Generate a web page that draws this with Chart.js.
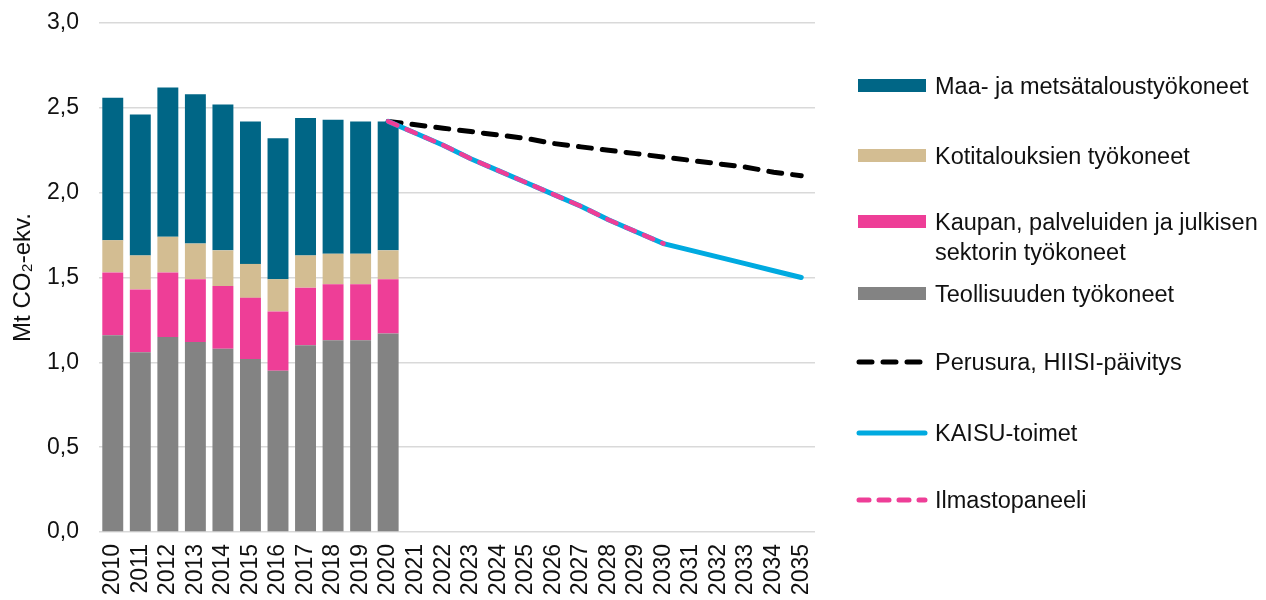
<!DOCTYPE html>
<html>
<head>
<meta charset="utf-8">
<script src="https://cdn.jsdelivr.net/npm/chart.js@4/dist/chart.umd.min.js"></script>
<style>
  html, body { margin: 0; padding: 0; background: #fff; }
  #wrap { position: relative; width: 1266px; height: 600px; }
  #legend { position: absolute; left: 0; top: 0; font-family: "Liberation Sans", Arial, sans-serif; font-size: 23.5px; color: #111; }
  .item { position: absolute; left: 856px; }
  .item svg { display: block; }
  .item span { position: absolute; left: 79px; white-space: nowrap; line-height: 30px; }
</style>
</head>
<body>
<div id="wrap">
  <canvas id="chart" width="1266" height="600"></canvas>
  <div id="legend"></div>
</div>
<script>
// Non-road machinery emissions, Mt CO2-ekv.

const years = ['2010','2011','2012','2013','2014','2015','2016','2017','2018','2019','2020',
  '2021','2022','2023','2024','2025','2026','2027','2028','2029','2030',
  '2031','2032','2033','2034','2035'];

// stacked bars, 2010-2020
const teollisuus = [1.16, 1.06, 1.15, 1.12, 1.08, 1.02, 0.95, 1.10, 1.13, 1.13, 1.17];
const kauppa     = [0.37, 0.37, 0.38, 0.37, 0.37, 0.36, 0.35, 0.34, 0.33, 0.33, 0.32];
const kotitalous = [0.19, 0.20, 0.21, 0.21, 0.21, 0.20, 0.19, 0.19, 0.18, 0.18, 0.17];
const maaMetsa   = [0.84, 0.83, 0.88, 0.88, 0.86, 0.84, 0.83, 0.81, 0.79, 0.78, 0.76];

// scenario lines, 2020-2035
const perusura = [2.42, 2.40, 2.38, 2.36, 2.34, 2.32, 2.29, 2.27, 2.25, 2.23, 2.21, 2.19, 2.17, 2.15, 2.12, 2.10];
const kaisu    = [2.42, 2.35, 2.28, 2.20, 2.13, 2.06, 1.99, 1.92, 1.84, 1.77, 1.70, 1.66, 1.62, 1.58, 1.54, 1.50];
const ilmasto  = [2.42, 2.35, 2.28, 2.20, 2.13, 2.06, 1.99, 1.92, 1.84, 1.77, 1.70];

const yTicks = [0, 0.5, 1.0, 1.5, 2.0, 2.5, 3.0];

const teal = '#006686';
const tan = '#D3BD92';
const pink = '#EE3E97';
const gray = '#838383';
const blue = '#00AAE0';

const FONT = '"Liberation Sans", Arial, sans-serif';
const lineStart = years.indexOf('2020');

function fromYear(vals) {
  return years.map((y, i) => (i >= lineStart && i - lineStart < vals.length) ? vals[i - lineStart] : null);
}

const datasets = [
  { type: 'line', label: 'Ilmastopaneeli', data: fromYear(ilmasto), borderColor: pink, borderWidth: 4.5,
    borderDash: [10, 10], stack: 'l1', order: 1, legendY: 500, dash: '10 10' },
  { type: 'line', label: 'KAISU-toimet', data: fromYear(kaisu), borderColor: blue, borderWidth: 5,
    stack: 'l2', order: 2, legendY: 433 },
  { type: 'line', label: 'Perusura, HIISI-päivitys', data: fromYear(perusura), borderColor: '#000', borderWidth: 5,
    borderDash: [13, 11], stack: 'l3', order: 3, legendY: 362, dash: '13 11' },
  { label: 'Teollisuuden työkoneet', data: teollisuus, backgroundColor: gray, legendY: 294 },
  { label: 'Kaupan, palveluiden ja julkisen\nsektorin työkoneet', data: kauppa, backgroundColor: pink, legendY: 222 },
  { label: 'Kotitalouksien työkoneet', data: kotitalous, backgroundColor: tan, legendY: 156 },
  { label: 'Maa- ja metsätaloustyökoneet', data: maaMetsa, backgroundColor: teal, legendY: 86 }
];

datasets.forEach(ds => {
  if (!ds.type) {
    ds.type = 'bar';
    ds.stack = 'bars';
    ds.order = 10;
    ds.barPercentage = 0.76;
    ds.categoryPercentage = 1;
    ds.borderWidth = 0;
  } else {
    ds.pointRadius = 0;
    ds.borderCapStyle = 'round';
    ds.tension = 0;
  }
});

new Chart(document.getElementById('chart'), {
  data: { labels: years, datasets: datasets },
  options: {
    responsive: false,
    animation: false,
    layout: { padding: { top: 23, right: 451, left: 0, bottom: 0 } },
    plugins: { legend: { display: false }, tooltip: { enabled: false } },
    scales: {
      x: {
        stacked: true,
        grid: { display: false, drawTicks: false },
        border: { display: false },
        ticks: { autoSkip: false, minRotation: 90, maxRotation: 90, padding: 12, color: '#111',
          font: { family: FONT, size: 23 } },
        afterFit: s => { s.height = 68; s.paddingLeft = 0; s.paddingRight = 0; }
      },
      y: {
        stacked: true,
        min: 0, max: 3,
        afterBuildTicks: s => { s.ticks = yTicks.map(v => ({ value: v })); },
        grid: { color: '#D9D9D9', lineWidth: 1.5, drawTicks: false },
        border: { display: false },
        ticks: { padding: 20, color: '#111', font: { family: FONT, size: 23 },
          callback: v => v.toFixed(1).replace('.', ',') },
        title: { display: true, text: 'Mt CO₂-ekv.', color: '#111', padding: { top: 9, bottom: 0 },
          font: { family: FONT, size: 24 } },
        afterFit: s => { s.width = 99; s.paddingTop = 0; s.paddingBottom = 0; }
      }
    }
  }
});

// legend on the right
const legend = document.getElementById('legend');
datasets.forEach(ds => {
  const item = document.createElement('div');
  item.className = 'item';
  let sw;
  if (ds.type === 'bar') {
    sw = `<svg width="72" height="14"><rect x="2" y="0" width="68" height="13" fill="${ds.backgroundColor}"/></svg>`;
  } else {
    const dash = ds.dash ? `stroke-dasharray="${ds.dash}"` : '';
    sw = `<svg width="72" height="14"><line x1="3" y1="7" x2="69" y2="7" stroke="${ds.borderColor}" stroke-width="5" stroke-linecap="round" ${dash}/></svg>`;
  }
  item.style.top = (ds.legendY - 7) + 'px';
  const lines = ds.label.split('\n').join('<br>');
  item.innerHTML = sw + `<span style="top:-8px">${lines}</span>`;
  legend.appendChild(item);
});
</script>
</body>
</html>
